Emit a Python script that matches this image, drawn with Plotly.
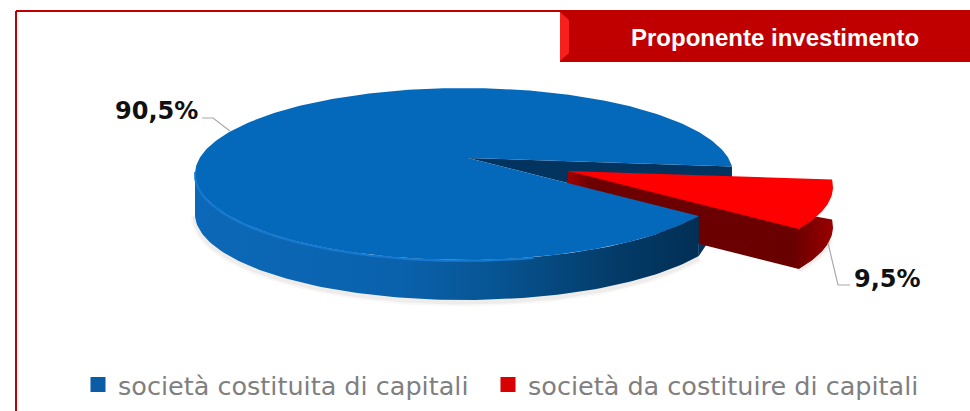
import numpy as np
import plotly.graph_objects as go

names = ["società costituita di capitali", "società da costituire di capitali"]
shares = [90.5, 9.5]
label_texts = ["90,5%", "9,5%"]
banner_text = "Proponente investimento"

W, H = 970, 411
CX, CY, A, B = 464, 174, 269, 86      # pixel placement of the unit pie
START = 5.0                            # degrees, where the small slice begins
APEX = (0.015, 0.186)                  # perspective apex in unit coordinates
EXPLODE = (100 / A, -13 / B)
T_BLUE, T_RED = 40 / B, 40 / B


def arc(t0, t1, n=120):
    t = np.radians(np.linspace(t0, t1, n))
    return np.cos(t), np.sin(t)


def trace(x, y, color=None, grad=None, name=None):
    kw = dict(fillgradient=grad) if grad else dict(fillcolor=color)
    return go.Scatter(x=list(x), y=list(y), mode="lines", fill="toself", line=dict(width=0),
                      hoverinfo="skip", showlegend=False, name=name, **kw)


small_deg = shares[1] / sum(shares) * 360
end_small = START - small_deg

fig = go.Figure()

# soft shadow under the pie
bx, by = arc(180, 360 + end_small)
for w, op in ((9, 0.04), (5, 0.06)):
    fig.add_trace(go.Scatter(x=bx, y=by - T_BLUE - 2 / B, mode="lines", hoverinfo="skip", showlegend=False,
                             line=dict(color=f"rgba(90,70,50,{op})", width=w)))
rx, ry = arc(START, end_small, 40)
rx, ry = rx + EXPLODE[0], ry + EXPLODE[1]
for w, op in ((8, 0.04), (4, 0.06)):
    fig.add_trace(go.Scatter(x=rx[15:], y=ry[15:] - T_RED - 1 / B, mode="lines", hoverinfo="skip", showlegend=False,
                             line=dict(color=f"rgba(90,70,50,{op})", width=w)))

# inner wall of the large slice, seen through the gap
sx, sy = np.cos(np.radians(START)), np.sin(np.radians(START))
ex, ey = np.cos(np.radians(end_small)), np.sin(np.radians(end_small))
fig.add_trace(trace([APEX[0], sx, sx, ex, ex, APEX[0]],
                    [APEX[1], sy, sy - T_BLUE, ey - T_BLUE, ey, APEX[1]], color="#03345f"))

# exploded small slice: side, then top
ax_r, ay_r = APEX[0] + EXPLODE[0], APEX[1] + EXPLODE[1]
fig.add_trace(trace(
    [ax_r, rx[0], *rx, ax_r, ax_r],
    [ay_r, ry[0] - T_RED, *(ry - T_RED), ay_r - T_RED, ay_r],
    grad=dict(type="horizontal", colorscale=[[0, "#a30000"], [0.08, "#6e0000"], [0.85, "#690000"], [1, "#9a0000"]])))
fig.add_trace(trace([ax_r, *rx, ax_r], [ay_r, *ry, ay_r], color="#fe0000", name=names[1]))

# large slice: side, top, rim highlight
sidex, sidey = arc(180, 360 + end_small)
fig.add_trace(trace(
    [*sidex, *sidex[::-1]], [*sidey, *(sidey[::-1] - T_BLUE)],
    grad=dict(type="horizontal",
              colorscale=[[0, "#0c68b8"], [0.4, "#0a62ad"], [0.6, "#075492"], [0.85, "#033a66"], [1, "#022f55"]])))
tx, ty = arc(START, 360 + end_small, 300)
fig.add_trace(trace([APEX[0], *tx, APEX[0]], [APEX[1], *ty, APEX[1]], color="#0469bb", name=names[0]))
hx, hy = arc(178, 285)
fig.add_trace(go.Scatter(x=hx, y=hy - 1 / B, mode="lines", hoverinfo="skip", showlegend=False,
                         line=dict(color="#1778d0", width=2)))

# legend entries
legend_colors = ["#0a5ca6", "#d80000"]
legend_refs = ["legend", "legend2"]
for n, c, ref in zip(names, legend_colors, legend_refs):
    fig.add_trace(go.Scatter(x=[None], y=[None], mode="markers", name=n, legend=ref, showlegend=True,
                             marker=dict(symbol="square", size=15, color=c)))


def px(x0, y0, x1, y1):
    return dict(xref="paper", yref="paper", x0=x0 / W, x1=x1 / W, y0=1 - y0 / H, y1=1 - y1 / H)


def path(points):
    return "M" + " L".join(f"{x / W:.5f},{1 - y / H:.5f}" for x, y in points)


shapes = [
    dict(type="line", line=dict(color="#c00000", width=2), **px(16, 11, 16, 411)),
    dict(type="line", line=dict(color="#c00000", width=2), **px(16, 11, 561, 11)),
    dict(type="rect", line=dict(width=0), fillcolor="#c00000", **px(560, 10, 970, 62)),
    dict(type="path", xref="paper", yref="paper", line=dict(width=0), fillcolor="#f8201c",
         path=path([(560, 12), (569, 20), (569, 53), (560, 61)]) + " Z"),
    dict(type="path", xref="paper", yref="paper", line=dict(color="#aaaaaa", width=1.2),
         path=path([(202, 118), (213, 118), (230, 131)])),
    dict(type="path", xref="paper", yref="paper", line=dict(color="#aaaaaa", width=1.2),
         path=path([(828, 243), (838, 285), (850, 285)])),
]


def note(text, x, y, size, color, family, anchor="left"):
    return dict(text=f"<b>{text}</b>", x=x / W, y=1 - y / H, xref="paper", yref="paper", showarrow=False,
                xanchor=anchor, yanchor="middle", font=dict(size=size, color=color, family=family))


annotations = [
    note(banner_text, 775, 37, 24, "#ffffff", "Liberation Sans, Arial", "center"),
    note(label_texts[0], 113, 111, 24, "#111111", "DejaVu Sans"),
    note(label_texts[1], 852, 279, 24, "#111111", "DejaVu Sans"),
]


def legend_box(x):
    return dict(orientation="h", x=x / W, y=1 - 385 / H, xanchor="left", yanchor="middle",
                font=dict(family="DejaVu Sans", size=25.5, color="#7f7f7f"),
                bgcolor="rgba(0,0,0,0)", itemclick=False, itemdoubleclick=False)


fig.update_layout(
    width=W, height=H, autosize=False,
    margin=dict(l=0, r=0, t=0, b=0),
    paper_bgcolor="white", plot_bgcolor="white",
    xaxis=dict(range=[(0 - CX) / A, (W - CX) / A], visible=False, fixedrange=True),
    yaxis=dict(range=[(CY - H) / B, CY / B], visible=False, fixedrange=True),
    shapes=shapes, annotations=annotations,
    showlegend=True,
    legend=legend_box(78),
    legend2=legend_box(488),
)

fig.write_html("out.html", config=dict(displayModeBar=False),
               post_script="document.body.style.margin='0';")
